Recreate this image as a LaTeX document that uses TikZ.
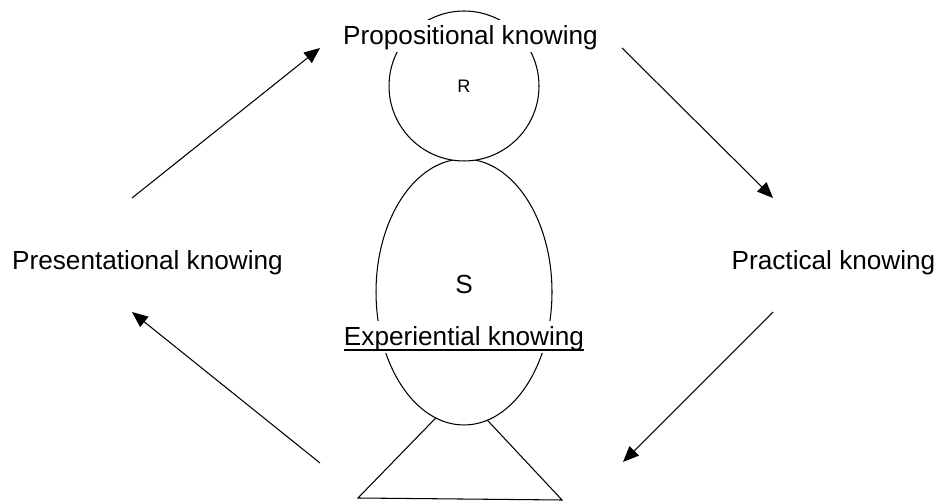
\documentclass[tikz,border=0pt]{standalone}
\usepackage{fontspec}
\setmainfont{Liberation Sans}
\usepackage{tikz}
\usetikzlibrary{shapes.geometric, arrows.meta, positioning}

\begin{document}
\begin{tikzpicture}[x=0.02cm, y=-0.02cm, font=\fontsize{14.9pt}{18pt}\selectfont,
    mode/.style={anchor=base, inner sep=0pt},
    cover/.style={anchor=base, fill=white, inner xsep=0pt, inner ysep=0pt, text height=14pt, text depth=4pt},
    cyc/.style={-{Triangle[length=9pt, width=7.5pt]}, line width=0.6pt}]
  \useasboundingbox (0,0) rectangle (939,502);
  % Figure: body, head
  \draw[line width=0.6pt] (358,498) -- (461,392) -- (562,500) -- cycle;
  \node[draw, ellipse, fill=white, line width=0.6pt, minimum width=3.52cm, minimum height=5.32cm] (body) at (464,292) {};
  \node[draw, circle, fill=white, line width=0.6pt, minimum size=3cm, inner sep=0pt,
        font=\fontsize{10.3pt}{12pt}\selectfont] (head) at (464,86) {R};
  \node[mode] (self) at (464,294) {S};
  % Modes of knowing
  \node[cover] (prop) at (470.5,45) {Propositional knowing};
  \node[cover] (expe) at (464,346) {Experiential knowing};
  \draw[line width=1pt] ([yshift=-2.3pt]expe.base west) -- ([yshift=-2.3pt]expe.base east);
  \node[mode] (pres) at (147.5,270) {Presentational knowing};
  \node[mode] (prac) at (833.5,270) {Practical knowing};
  % Cycle arrows
  \coordinate (a1) at (132,198); \coordinate (a2) at (320,48);
  \coordinate (b1) at (622,48);  \coordinate (b2) at (773,198);
  \coordinate (c1) at (773,312); \coordinate (c2) at (623,462);
  \coordinate (d1) at (320,463); \coordinate (d2) at (132,312);
  \draw[cyc] (a1) -- (a2);
  \draw[cyc] (b1) -- (b2);
  \draw[cyc] (c1) -- (c2);
  \draw[cyc] (d1) -- (d2);
\end{tikzpicture}
\end{document}
